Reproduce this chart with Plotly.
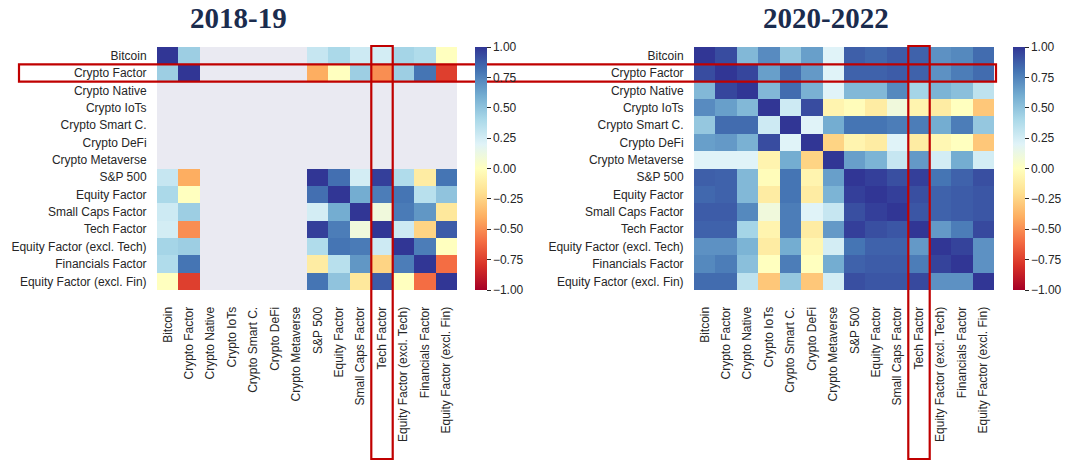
import plotly.graph_objects as go

labels = ["Bitcoin", "Crypto Factor", "Crypto Native", "Crypto IoTs", "Crypto Smart C.",
          "Crypto DeFi", "Crypto Metaverse", "S&P 500", "Equity Factor", "Small Caps Factor",
          "Tech Factor", "Equity Factor (excl. Tech)", "Financials Factor", "Equity Factor (excl. Fin)"]

N = None
corr_2018_19 = [
    [1.00, 0.45, N, N, N, N, N, 0.30, 0.40, 0.27, 0.25, 0.42, 0.38, 0.00],
    [0.45, 1.00, N, N, N, N, N, -0.40, 0.00, 0.45, -0.50, 0.45, 0.80, -0.75],
    [N, N, N, N, N, N, N, N, N, N, N, N, N, N],
    [N, N, N, N, N, N, N, N, N, N, N, N, N, N],
    [N, N, N, N, N, N, N, N, N, N, N, N, N, N],
    [N, N, N, N, N, N, N, N, N, N, N, N, N, N],
    [N, N, N, N, N, N, N, N, N, N, N, N, N, N],
    [0.30, -0.40, N, N, N, N, N, 1.00, 0.82, 0.25, 0.97, 0.38, -0.12, 0.80],
    [0.40, 0.00, N, N, N, N, N, 0.82, 1.00, 0.60, 0.77, 0.80, 0.35, 0.50],
    [0.27, 0.45, N, N, N, N, N, 0.25, 0.60, 1.00, 0.10, 0.78, 0.68, -0.15],
    [0.25, -0.50, N, N, N, N, N, 0.97, 0.77, 0.10, 1.00, 0.27, -0.25, 0.88],
    [0.42, 0.45, N, N, N, N, N, 0.38, 0.80, 0.78, 0.27, 1.00, 0.77, 0.00],
    [0.38, 0.80, N, N, N, N, N, -0.12, 0.35, 0.68, -0.25, 0.77, 1.00, -0.60],
    [0.00, -0.75, N, N, N, N, N, 0.80, 0.50, -0.15, 0.88, 0.00, -0.60, 1.00],
]

corr_2020_22 = [
    [1.00, 0.93, 0.55, 0.72, 0.48, 0.65, 0.20, 0.87, 0.84, 0.88, 0.86, 0.70, 0.73, 0.83],
    [0.93, 1.00, 0.95, 0.65, 0.83, 0.67, 0.20, 0.86, 0.86, 0.88, 0.86, 0.70, 0.77, 0.83],
    [0.55, 0.95, 1.00, 0.55, 0.83, 0.58, 0.20, 0.55, 0.55, 0.73, 0.42, 0.57, 0.52, 0.33],
    [0.72, 0.65, 0.55, 1.00, 0.27, 0.93, -0.07, -0.02, -0.12, 0.10, -0.07, -0.12, 0.00, -0.30],
    [0.48, 0.83, 0.83, 0.27, 1.00, 0.20, 0.60, 0.80, 0.80, 0.77, 0.77, 0.60, 0.77, 0.48],
    [0.65, 0.67, 0.58, 0.93, 0.20, 1.00, -0.25, -0.07, -0.12, 0.20, -0.12, -0.05, 0.00, -0.30],
    [0.20, 0.20, 0.20, -0.07, 0.60, -0.25, 1.00, 0.65, 0.57, 0.30, 0.67, 0.25, 0.60, 0.25],
    [0.87, 0.86, 0.55, -0.02, 0.80, -0.07, 0.65, 1.00, 0.97, 0.92, 0.97, 0.80, 0.86, 0.92],
    [0.84, 0.86, 0.55, -0.12, 0.80, -0.12, 0.57, 0.97, 1.00, 0.97, 0.92, 0.86, 0.88, 0.90],
    [0.88, 0.88, 0.73, 0.10, 0.77, 0.20, 0.30, 0.92, 0.97, 1.00, 0.90, 0.86, 0.88, 0.90],
    [0.86, 0.86, 0.42, -0.07, 0.77, -0.12, 0.67, 0.97, 0.92, 0.90, 1.00, 0.67, 0.77, 0.94],
    [0.70, 0.70, 0.57, -0.12, 0.60, -0.05, 0.25, 0.80, 0.86, 0.86, 0.67, 1.00, 0.96, 0.70],
    [0.73, 0.77, 0.52, 0.00, 0.77, 0.00, 0.60, 0.86, 0.88, 0.88, 0.77, 0.96, 1.00, 0.70],
    [0.83, 0.83, 0.33, -0.30, 0.48, -0.30, 0.25, 0.92, 0.90, 0.90, 0.94, 0.70, 0.70, 1.00],
]

titles = ["2018-19", "2020-2022"]
cbar_ticks = [-1.0, -0.75, -0.5, -0.25, 0.0, 0.25, 0.5, 0.75, 1.0]
highlight_row = "Crypto Factor"
highlight_col = "Tech Factor"

W, H = 1067, 460
def px_x(p): return p / W
def px_y(p): return 1 - p / H

y_dom = [px_y(290), px_y(47)]
x_dom1 = [px_x(157), px_x(457)]
x_dom2 = [px_x(694), px_x(994)]

colorscale = [
    [0.0, "#a50026"], [0.1, "#d73027"], [0.2, "#f46d43"], [0.3, "#fdae61"],
    [0.4, "#fee090"], [0.5, "#ffffbf"], [0.6, "#e0f3f8"], [0.7, "#abd9e9"],
    [0.8, "#74add1"], [0.9, "#4575b4"], [1.0, "#313695"],
]

tick_font = dict(family="Arial, Liberation Sans, sans-serif", size=12, color="#262626")

def cbar(xpx):
    return dict(
        x=px_x(xpx), xanchor="left", xref="paper",
        y=y_dom[0], yanchor="bottom", yref="paper",
        len=y_dom[1] - y_dom[0], lenmode="fraction",
        thickness=12, outlinewidth=0, xpad=0, ypad=0,
        tickmode="array",
        tickvals=cbar_ticks, ticktext=[("%.2f" % v).replace("-", "\u2212") for v in cbar_ticks],
        ticks="outside", ticklen=4, tickcolor="#262626", tickwidth=1,
        tickfont=tick_font,
    )

fig = go.Figure()
fig.add_trace(go.Heatmap(z=corr_2018_19, x=labels, y=labels, zmin=-1, zmax=1,
                         colorscale=colorscale, colorbar=cbar(475), xaxis="x", yaxis="y",
                         hoverongaps=False))
fig.add_trace(go.Heatmap(z=corr_2020_22, x=labels, y=labels, zmin=-1, zmax=1,
                         colorscale=colorscale, colorbar=cbar(1013), xaxis="x2", yaxis="y2"))

axis_common = dict(showgrid=False, zeroline=False, ticks="outside",
                   tickcolor="rgba(0,0,0,0)", tickfont=tick_font, showline=False,
                   automargin=False)

fig.update_layout(
    width=W, height=H, margin=dict(l=0, r=0, t=0, b=0, pad=0, autoexpand=False),
    paper_bgcolor="white", plot_bgcolor="#eaeaf2",
    xaxis=dict(domain=x_dom1, anchor="y", tickangle=-90, ticklen=11, **axis_common),
    yaxis=dict(domain=y_dom, anchor="x", autorange="reversed", ticklen=7, **axis_common),
    xaxis2=dict(domain=x_dom2, anchor="y2", tickangle=-90, ticklen=11, **axis_common),
    yaxis2=dict(domain=y_dom, anchor="x2", autorange="reversed", ticklen=7, **axis_common),
    showlegend=False,
)

title_font = dict(family="Liberation Serif, Times New Roman, serif", size=29, color="#1b2c4e")
for t, xc in zip(titles, [238, 826]):
    fig.add_annotation(text="<b>%s</b>" % t, x=px_x(xc), y=px_y(18), xref="paper", yref="paper",
                       showarrow=False, font=title_font, xanchor="center", yanchor="middle")

red = "#c00000"
ri = labels.index(highlight_row)
ci = labels.index(highlight_col)
fig.add_shape(type="rect", xref="paper", yref="y", x0=px_x(19), x1=px_x(996),
              y0=ri - 0.5, y1=ri + 0.5, line=dict(color=red, width=2.2), layer="above")
for xr in ["x", "x2"]:
    fig.add_shape(type="rect", xref=xr, yref="paper", x0=ci - 0.5, x1=ci + 0.5,
                  y0=px_y(459), y1=px_y(46), line=dict(color=red, width=2.2), layer="above")

# Remove the browser's default 8px page margin so the figure starts at the window corner.
fig.write_html("out.html", config={"displayModeBar": False},
               post_script="document.body.style.margin='0';")
